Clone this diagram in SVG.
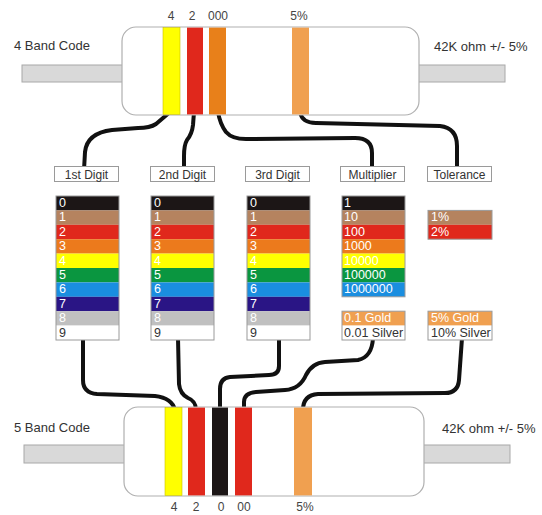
<svg xmlns="http://www.w3.org/2000/svg" width="542" height="515" viewBox="0 0 542 515">
  <style>
    text { font-family: "Liberation Sans", Arial, sans-serif; }
    .side { font-size: 13px; fill: #333; }
    .code { font-size: 12px; fill: #444; text-anchor: middle; }
    .hdr rect { fill: #fff; stroke: #9a9a9a; stroke-width: 1; }
    .hdr text { font-size: 12px; fill: #333; text-anchor: middle; }
    .row { font-size: 12.5px; fill: #fff; }
    .dark { fill: #333; }
    .frame { fill: none; stroke: #9a9a9a; stroke-width: 1; }
    .body { fill: #fff; stroke: #b0b0b0; stroke-width: 1.2; }
    .lead { fill: #d9d9d9; stroke: #a8a8a8; stroke-width: 1; }
    .wire { fill: none; stroke: #111; stroke-width: 4; stroke-linecap: round; stroke-linejoin: round; }
    .c0 { fill: #1c1616; } .c1 { fill: #b5835f; } .c2 { fill: #e0281c; }
    .c3 { fill: #ec7a1c; } .c4 { fill: #ffff00; } .c5 { fill: #0a9640; }
    .c6 { fill: #1a8ee0; } .c7 { fill: #2a1585; } .c8 { fill: #c0c0c0; }
    .c9 { fill: #ffffff; } .gold { fill: #f0a050; }
  </style>

  <!-- wires between the bands and the colour tables -->
  <g id="connectors" class="wire">
    <path d="M170,112 L156,124 Q150,128 138,128 L112,130 Q87,133 85,152 L84,170"/>
    <path d="M194,112 L193,125 Q192,134 187,140 Q184,145 184,156 L184,170"/>
    <path d="M218,112 Q220,124 226,132 Q232,139 246,139 L355,138 Q372,138 372,153 L372,170"/>
    <path d="M300,112 Q302,123 316,123 L440,126 Q457,128 457,146 L457,170"/>
    <path d="M83,338 L83,380 Q83,393 97,394 L155,396 Q172,398 175,410"/>
    <path d="M178,338 L179,384 Q180,394 188,398 Q196,401 196,410"/>
    <path d="M279,338 L279,366 Q279,375 269,375 L230,377 Q220,378 220,389 L220,410"/>
    <path d="M373,338 Q372,357 358,360 L325,362 Q312,363 306,375 Q300,389 285,390 L256,392 Q244,393 244,402 L244,410"/>
    <path d="M462,338 L459,380 Q458,393 445,393 L318,394 Q303,395 303,410"/>
  </g>

  <!-- four band resistor -->
  <g id="resistor4">
    <rect class="lead" x="22" y="65" width="102" height="17"/>
    <rect class="lead" x="417" y="65" width="88" height="17"/>
    <rect class="body" x="122" y="27" width="297" height="88" rx="14"/>
    <rect x="163" y="27.6" width="17" height="86.8" fill="#ffff00" stroke="#c9c000" stroke-width="0.6"/>
    <rect x="187" y="27.6" width="16" height="86.8" fill="#e0281c"/>
    <rect x="209" y="27.6" width="17" height="86.8" fill="#e8801a"/>
    <rect x="292" y="27.6" width="17" height="86.8" fill="#f0a050"/>
    <text class="code" x="171" y="20">4</text>
    <text class="code" x="192" y="20">2</text>
    <text class="code" x="218" y="20">000</text>
    <text class="code" x="299" y="20">5%</text>
    <text class="side" x="14" y="50">4 Band Code</text>
    <text class="side" x="434" y="51">42K ohm +/- 5%</text>
  </g>

  <!-- five band resistor -->
  <g id="resistor5">
    <rect class="lead" x="24" y="445" width="102" height="18"/>
    <rect class="lead" x="422" y="445" width="88" height="18"/>
    <rect class="body" x="124" y="407" width="300" height="89" rx="14"/>
    <rect x="165" y="407.6" width="17" height="87.8" fill="#ffff00" stroke="#c9c000" stroke-width="0.6"/>
    <rect x="188" y="407.6" width="17" height="87.8" fill="#e0281c"/>
    <rect x="212" y="407.6" width="16" height="87.8" fill="#1c1616"/>
    <rect x="235" y="407.6" width="17" height="87.8" fill="#e0281c"/>
    <rect x="294" y="407.6" width="18" height="87.8" fill="#f0a050"/>
    <text class="code" x="174" y="511">4</text>
    <text class="code" x="196" y="511">2</text>
    <text class="code" x="221" y="511">0</text>
    <text class="code" x="244" y="511">00</text>
    <text class="code" x="305" y="511">5%</text>
    <text class="side" x="14" y="432">5 Band Code</text>
    <text class="side" x="442" y="433">42K ohm +/- 5%</text>
  </g>

  <!-- headers -->
  <g id="hdr-digit1" class="hdr"><rect x="54.5" y="166.5" width="64" height="15"/><text x="86.5" y="178.5">1st Digit</text></g>
  <g id="hdr-digit2" class="hdr"><rect x="150.5" y="166.5" width="64" height="15"/><text x="182.5" y="178.5">2nd Digit</text></g>
  <g id="hdr-digit3" class="hdr"><rect x="245.5" y="166.5" width="64" height="15"/><text x="277.5" y="178.5">3rd Digit</text></g>
  <g id="hdr-multiplier" class="hdr"><rect x="340.5" y="166.5" width="64" height="15"/><text x="372.5" y="178.5">Multiplier</text></g>
  <g id="hdr-tolerance" class="hdr"><rect x="427.5" y="166.5" width="64" height="15"/><text x="459.5" y="178.5">Tolerance</text></g>

  <!-- digit tables -->
  <g id="table-digit1">
    <rect class="c0" x="56" y="196" width="63" height="14.4"/>
    <rect class="c1" x="56" y="210.4" width="63" height="14.4"/>
    <rect class="c2" x="56" y="224.8" width="63" height="14.4"/>
    <rect class="c3" x="56" y="239.2" width="63" height="14.4"/>
    <rect class="c4" x="56" y="253.6" width="63" height="14.4"/>
    <rect class="c5" x="56" y="268" width="63" height="14.4"/>
    <rect class="c6" x="56" y="282.4" width="63" height="14.4"/>
    <rect class="c7" x="56" y="296.8" width="63" height="14.4"/>
    <rect class="c8" x="56" y="311.2" width="63" height="14.4"/>
    <rect class="c9" x="56" y="325.6" width="63" height="14.4"/>
    <rect class="frame" x="56" y="196" width="63" height="144"/>
    <text class="row" x="59" y="207">0</text>
    <text class="row" x="59" y="221.4">1</text>
    <text class="row" x="59" y="235.8">2</text>
    <text class="row" x="59" y="250.2">3</text>
    <text class="row" x="59" y="264.6">4</text>
    <text class="row" x="59" y="279">5</text>
    <text class="row" x="59" y="293.4">6</text>
    <text class="row" x="59" y="307.8">7</text>
    <text class="row" x="59" y="322.2">8</text>
    <text class="row dark" x="59" y="336.6">9</text>
  </g>
  <g id="table-digit2">
    <rect class="c0" x="151" y="196" width="63" height="14.4"/>
    <rect class="c1" x="151" y="210.4" width="63" height="14.4"/>
    <rect class="c2" x="151" y="224.8" width="63" height="14.4"/>
    <rect class="c3" x="151" y="239.2" width="63" height="14.4"/>
    <rect class="c4" x="151" y="253.6" width="63" height="14.4"/>
    <rect class="c5" x="151" y="268" width="63" height="14.4"/>
    <rect class="c6" x="151" y="282.4" width="63" height="14.4"/>
    <rect class="c7" x="151" y="296.8" width="63" height="14.4"/>
    <rect class="c8" x="151" y="311.2" width="63" height="14.4"/>
    <rect class="c9" x="151" y="325.6" width="63" height="14.4"/>
    <rect class="frame" x="151" y="196" width="63" height="144"/>
    <text class="row" x="154" y="207">0</text>
    <text class="row" x="154" y="221.4">1</text>
    <text class="row" x="154" y="235.8">2</text>
    <text class="row" x="154" y="250.2">3</text>
    <text class="row" x="154" y="264.6">4</text>
    <text class="row" x="154" y="279">5</text>
    <text class="row" x="154" y="293.4">6</text>
    <text class="row" x="154" y="307.8">7</text>
    <text class="row" x="154" y="322.2">8</text>
    <text class="row dark" x="154" y="336.6">9</text>
  </g>
  <g id="table-digit3">
    <rect class="c0" x="247" y="196" width="63" height="14.4"/>
    <rect class="c1" x="247" y="210.4" width="63" height="14.4"/>
    <rect class="c2" x="247" y="224.8" width="63" height="14.4"/>
    <rect class="c3" x="247" y="239.2" width="63" height="14.4"/>
    <rect class="c4" x="247" y="253.6" width="63" height="14.4"/>
    <rect class="c5" x="247" y="268" width="63" height="14.4"/>
    <rect class="c6" x="247" y="282.4" width="63" height="14.4"/>
    <rect class="c7" x="247" y="296.8" width="63" height="14.4"/>
    <rect class="c8" x="247" y="311.2" width="63" height="14.4"/>
    <rect class="c9" x="247" y="325.6" width="63" height="14.4"/>
    <rect class="frame" x="247" y="196" width="63" height="144"/>
    <text class="row" x="250" y="207">0</text>
    <text class="row" x="250" y="221.4">1</text>
    <text class="row" x="250" y="235.8">2</text>
    <text class="row" x="250" y="250.2">3</text>
    <text class="row" x="250" y="264.6">4</text>
    <text class="row" x="250" y="279">5</text>
    <text class="row" x="250" y="293.4">6</text>
    <text class="row" x="250" y="307.8">7</text>
    <text class="row" x="250" y="322.2">8</text>
    <text class="row dark" x="250" y="336.6">9</text>
  </g>

  <!-- multiplier table -->
  <g id="table-multiplier">
    <rect class="c0" x="342" y="196" width="63" height="14.4"/>
    <rect class="c1" x="342" y="210.4" width="63" height="14.4"/>
    <rect class="c2" x="342" y="224.8" width="63" height="14.4"/>
    <rect class="c3" x="342" y="239.2" width="63" height="14.4"/>
    <rect class="c4" x="342" y="253.6" width="63" height="14.4"/>
    <rect class="c5" x="342" y="268" width="63" height="14.4"/>
    <rect class="c6" x="342" y="282.4" width="63" height="14.4"/>
    <rect class="frame" x="342" y="196" width="63" height="100.8"/>
    <rect class="gold" x="342" y="311.2" width="63" height="14.4"/>
    <rect class="c9" x="342" y="325.6" width="63" height="14.4"/>
    <rect class="frame" x="342" y="311.2" width="63" height="28.8"/>
    <text class="row" x="344" y="207">1</text>
    <text class="row" x="344" y="221.4">10</text>
    <text class="row" x="344" y="235.8">100</text>
    <text class="row" x="344" y="250.2">1000</text>
    <text class="row" x="344" y="264.6">10000</text>
    <text class="row" x="344" y="279">100000</text>
    <text class="row" x="344" y="293.4">1000000</text>
    <text class="row" x="344" y="322.2">0.1 Gold</text>
    <text class="row dark" x="344" y="336.6">0.01 Silver</text>
  </g>

  <!-- tolerance table -->
  <g id="table-tolerance">
    <rect class="c1" x="428" y="210.4" width="64" height="14.4"/>
    <rect class="c2" x="428" y="224.8" width="64" height="14.4"/>
    <rect class="frame" x="428" y="210.4" width="64" height="28.8"/>
    <rect class="gold" x="428" y="311.2" width="64" height="14.4"/>
    <rect class="c9" x="428" y="325.6" width="64" height="14.4"/>
    <rect class="frame" x="428" y="311.2" width="64" height="28.8"/>
    <text class="row" x="431" y="221.4">1%</text>
    <text class="row" x="431" y="235.8">2%</text>
    <text class="row" x="431" y="322.2">5% Gold</text>
    <text class="row dark" x="431" y="336.6">10% Silver</text>
  </g>
</svg>
